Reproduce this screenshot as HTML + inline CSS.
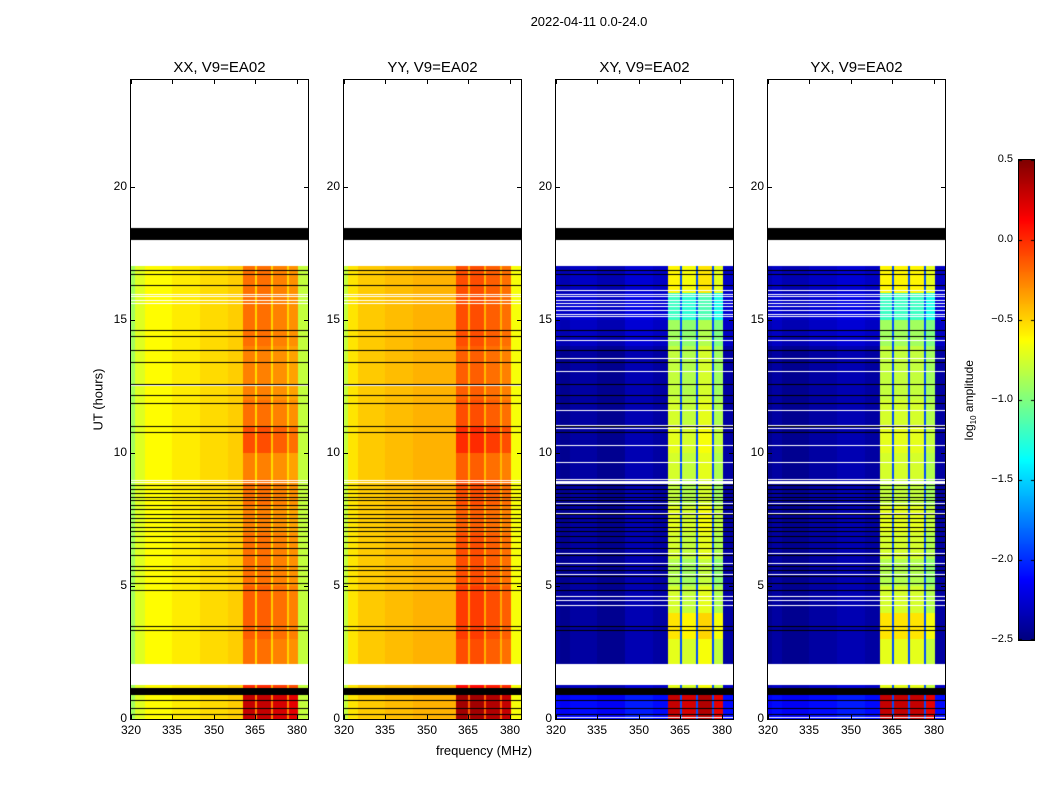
<!DOCTYPE html>
<html><head><meta charset="utf-8">
<style>
body{margin:0;background:#fff;font-family:"Liberation Sans",sans-serif;}
#root{position:relative;width:1050px;height:800px;overflow:hidden;background:#fff;}
.t{position:absolute;white-space:nowrap;color:#000;}
canvas{position:absolute;}
.frame{position:absolute;border:1px solid #000;box-sizing:border-box;}
.tk{position:absolute;background:#000;}
</style></head>
<body>
<div id="root">
<div class="t" style="left:489px;top:14px;width:200px;text-align:center;font-size:13px;">2022-04-11 0.0-24.0</div>
<div class="t" style="left:48px;top:392px;width:100px;text-align:center;font-size:13px;transform:rotate(-90deg);">UT (hours)</div>
<div class="t" style="left:384px;top:743px;width:200px;text-align:center;font-size:13px;">frequency (MHz)</div>
<canvas id="cb" width="15" height="480" style="left:1019px;top:160px;"></canvas>
<div class="frame" style="left:1018px;top:159px;width:17px;height:482px;"></div>
<div class="t" style="left:910px;top:392px;width:120px;text-align:center;font-size:12px;transform:rotate(-90deg);">log<sub style="font-size:8px">10</sub> amplitude</div>
</div>
<script>
// ---- data ----
var pols = ['XX','YY','XY','YX'];
var bandEdges = [320,321.5,325,335,345,355,360.5,364.8,365.7,370.5,371.3,376.3,377.1,380.3,384];
var specXX = [-0.9,-0.72,-0.62,-0.57,-0.52,-0.48,-0.2,-0.5,-0.2,-0.5,-0.25,-0.5,-0.3,-0.8];
var specYY = [-0.8,-0.55,-0.47,-0.43,-0.4,-0.4,-0.1,-0.4,-0.1,-0.4,-0.15,-0.4,-0.2,-0.65];
var specXY = [-2.4,-2.45,-2.4,-2.45,-2.35,-2.4,-1.0,-1.9,-1.05,-1.9,-0.95,-1.9,-1.1,-2.4];
var specYX = [-2.45,-2.4,-2.45,-2.4,-2.35,-2.4,-1.0,-1.9,-1.0,-1.9,-1.0,-1.9,-1.1,-2.4];
var bandBoostParallel = [0.5,0.2,0,0.05,0.05,0,0,-0.05,0,-0.05,0.1,0,-0.05,-0.05,0,0,0];
var bandBoostCross = [1.3,0.3,0.3,0.45,0.25,0.15,0.25,0.3,0.2,0.25,0.3,0.25,0.2,0.2,0.1,-0.2,0.4];
var offBoostCross = [0.3,0.1,0,0,0,0,0,0,0,0,0,0,0,0,0.1,0.15,0.1];
var dataRanges = [[0,1.28],[2.06,17.0]];
var blackBlocks = [[0.9,1.16],[18.0,18.46]];
var blackRows = [16.85,16.70,16.29,14.60,14.37,13.85,13.40,12.57,12.16,11.86,10.99,10.77,8.78,8.63,8.48,8.33,8.22,8.03,7.88,7.69,7.54,7.39,7.20,7.05,6.87,6.64,6.42,6.15,5.74,5.59,5.37,5.10,4.84,3.49,3.34,0.71,0.41,0.19];
var whiteRowsParallel = [15.98,15.87,15.72,15.61,8.97,8.92,12.53];
var whiteRowsCross = [16.10,15.98,15.87,15.72,15.61,15.5,15.35,15.23,15.12,14.22,13.55,13.06,11.59,11.03,10.92,10.28,9.64,9.0,8.95,8.9,8.86,8.10,7.73,6.23,5.85,5.44,4.62,4.47,4.28,0.06];
var xTicks = [320,335,350,365,380];
var yTicks = [0,5,10,15,20];
var cbTicks = [0.5,0.0,-0.5,-1.0,-1.5,-2.0,-2.5];
// ---- layout ----
var panelLeft = [131,344,556,768];
var PW=177, PT=80, PH=639, FMIN=320, FMAX=384, TMAX=24, VMIN=-2.5, VMAX=0.5;
function xs(f){return Math.round((f-FMIN)/(FMAX-FMIN)*PW);}
function ys(t){return Math.round(PH - t/TMAX*PH);}
function jet(v){
  var x=(v-VMIN)/(VMAX-VMIN); x=Math.max(0,Math.min(1,x));
  function c(a){return Math.max(0,Math.min(1,a));}
  var r=c(1.5-Math.abs(4*x-3)), g=c(1.5-Math.abs(4*x-2)), b=c(1.5-Math.abs(4*x-1));
  return 'rgb('+Math.round(r*255)+','+Math.round(g*255)+','+Math.round(b*255)+')';
}
var root=document.getElementById('root');
var specs={XX:specXX,YY:specYY,XY:specXY,YX:specYX};
pols.forEach(function(p,i){
  var L=panelLeft[i], cross=(p==='XY'||p==='YX');
  var cv=document.createElement('canvas');
  cv.width=PW; cv.height=PH; cv.style.left=L+'px'; cv.style.top=PT+'px';
  
  
  root.appendChild(cv);
  var ctx=cv.getContext('2d');
  ctx.imageSmoothingEnabled=false;
  var spec=specs[p];
  var boost=cross?bandBoostCross:bandBoostParallel;
  dataRanges.forEach(function(rg){
    for(var h=Math.floor(rg[0]);h<rg[1];h++){
      var t0=Math.max(h,rg[0]), t1=Math.min(h+1,rg[1]);
      for(var s=0;s<spec.length;s++){
        var inBand=bandEdges[s]>=360.5&&bandEdges[s+1]<=380.3;
        var isGap=cross&&inBand&&spec[s]<-1.5;
        var v=spec[s]+(inBand&&!isGap?boost[h]:(cross&&!inBand?offBoostCross[h]:0));
        if(!cross&&inBand&&spec[s]<=-0.4) v=spec[s]+boost[h]*0.5;
        ctx.fillStyle=jet(v);
        var x0=xs(bandEdges[s]), x1=xs(bandEdges[s+1]);
        ctx.fillRect(x0,ys(t1),x1-x0,ys(t0)-ys(t1));
      }
    }
  });
  ctx.fillStyle='#000';
  blackBlocks.forEach(function(b){ctx.fillRect(0,ys(b[1]),PW,ys(b[0])-ys(b[1]));});
  blackRows.forEach(function(t){ctx.fillRect(0,ys(t),PW,1);});
  ctx.fillStyle='#fff';
  (cross?whiteRowsCross:whiteRowsParallel).forEach(function(t){ctx.fillRect(0,ys(t),PW,1);});
  var fr=document.createElement('div'); fr.className='frame';
  fr.style.cssText='left:'+(L-1)+'px;top:'+(PT-1)+'px;width:'+(PW+2)+'px;height:'+(PH+2)+'px;';
  
  
  root.appendChild(fr);
  var ti=document.createElement('div'); ti.className='t';
  ti.style.cssText='left:'+(L-20)+'px;top:59px;width:'+(PW+40)+'px;text-align:center;font-size:15px;';
  ti.textContent=p+', V9=EA02';
  
  
  root.appendChild(ti);
  xTicks.forEach(function(f){
    var x=L+xs(f);
    [[PT+PH-4],[PT]].forEach(function(yy){
      var tk=document.createElement('div'); tk.className='tk';
      tk.style.cssText='left:'+x+'px;top:'+yy[0]+'px;width:1px;height:4px;';
      
      
      root.appendChild(tk);
    });
    var lb=document.createElement('div'); lb.className='t';
    lb.style.cssText='left:'+(x-20)+'px;top:723px;width:40px;text-align:center;font-size:12px;';
    lb.textContent=f;
    
    
    root.appendChild(lb);
  });
  yTicks.forEach(function(t){
    var y=PT+ys(t);
    [L,L+PW-4].forEach(function(xx){
      var tk=document.createElement('div'); tk.className='tk';
      tk.style.cssText='left:'+xx+'px;top:'+y+'px;width:4px;height:1px;';
      
      
      root.appendChild(tk);
    });
    var lb=document.createElement('div'); lb.className='t';
    lb.style.cssText='left:'+(L-44)+'px;top:'+(y-8)+'px;width:40px;text-align:right;font-size:12px;';
    lb.textContent=t;
    
    
    root.appendChild(lb);
  });
});
// colorbar
var cb=document.getElementById('cb').getContext('2d');
for(var yy=0;yy<480;yy++){cb.fillStyle=jet(VMAX-(yy+0.5)/480*(VMAX-VMIN));cb.fillRect(0,yy,15,1);}
cbTicks.forEach(function(v){
  var y=160+(VMAX-v)/(VMAX-VMIN)*480;
  cb.fillStyle='#000';
  cb.fillRect(0,Math.min(479,Math.round(y-160)),3,1);
  cb.fillRect(12,Math.min(479,Math.round(y-160)),3,1);
  var lb=document.createElement('div'); lb.className='t';
  lb.style.cssText='left:973px;top:'+(y-7)+'px;width:40px;text-align:right;font-size:11px;';
  lb.textContent=(v<0?'\u2212':'')+Math.abs(v).toFixed(1);
  
  
  root.appendChild(lb);
});
</script>
</body></html>
